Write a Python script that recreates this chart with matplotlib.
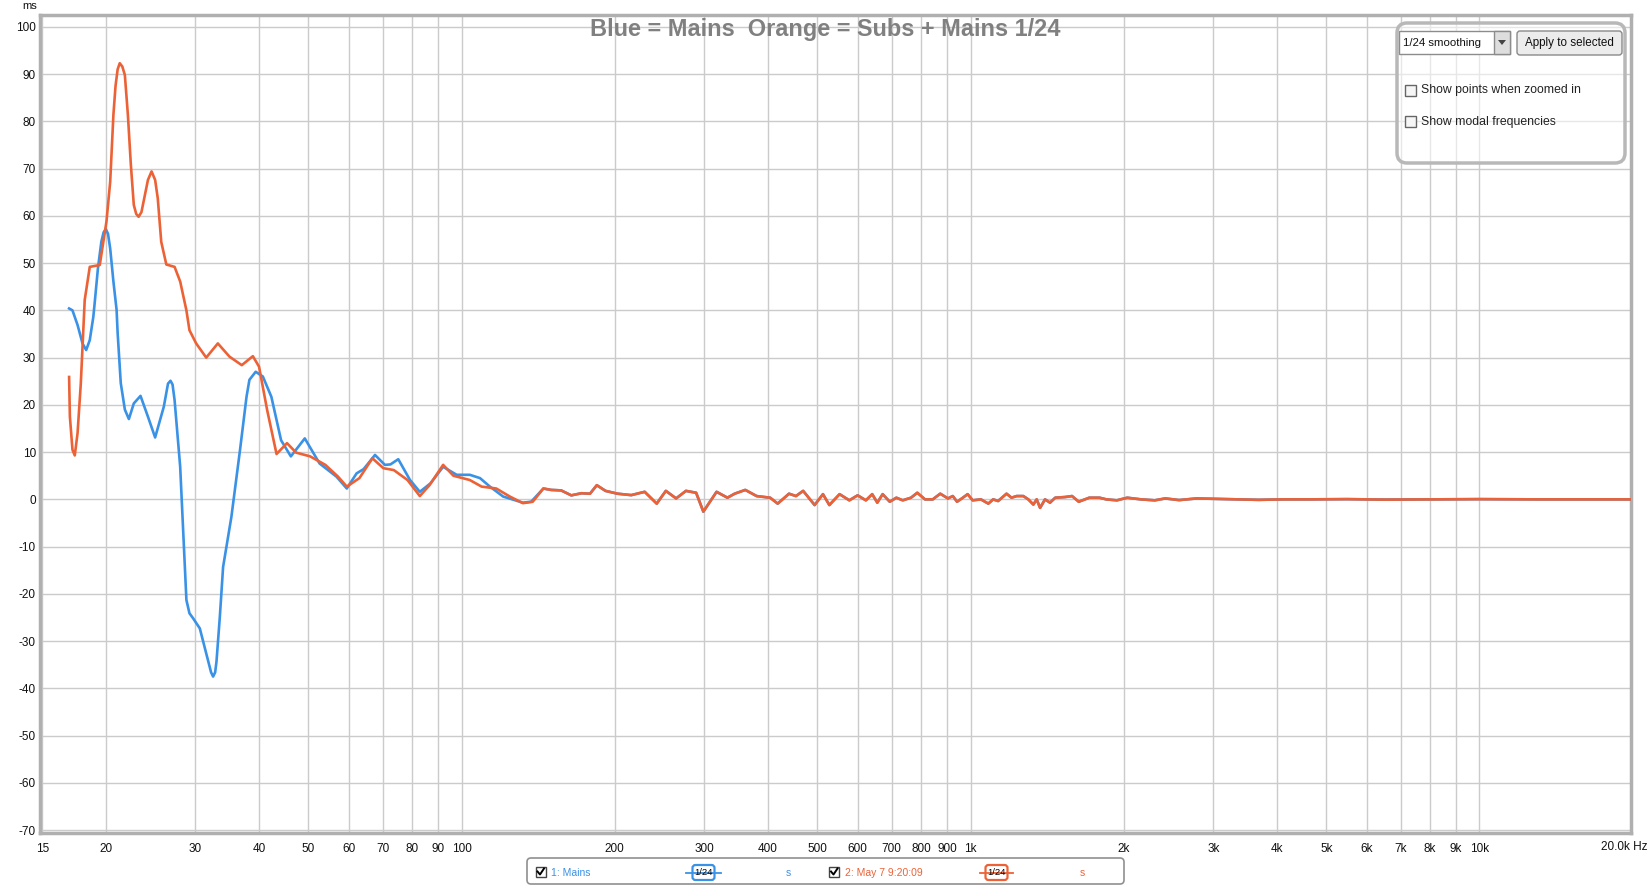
import numpy as np
import matplotlib
matplotlib.use("Agg")
import matplotlib.pyplot as plt
from matplotlib.patches import FancyBboxPatch, Rectangle, Polygon
from matplotlib.lines import Line2D

plt.rcParams['font.family'] = ['Liberation Sans', 'DejaVu Sans']

# ---------------- data ----------------
mains_freq_lf = [16.94, 17.2, 17.6, 18.0, 18.3, 18.6, 18.9, 19.0, 19.3, 19.6, 19.8, 20.0, 20.2,
                 20.4, 20.7, 21.0, 21.1, 21.4, 21.8, 22.2, 22.7, 23.4, 24.2, 25.0, 26.0, 26.5,
                 26.8, 27.05, 27.3, 28.0, 28.4, 28.8, 29.2, 29.7, 30.6, 31.5, 32.2, 32.5, 32.8,
                 33.0, 33.5, 34.0, 35.3, 36.7, 37.8, 38.3, 39.4, 40.7, 42.3, 44.2, 46.2, 49.2,
                 52.6, 56.8, 59.5, 62.2, 64.2, 67.6, 70.7, 72.5, 75.1, 79.2, 82.8, 86.9, 92.0,
                 97.8, 103.8, 108.7, 113.7, 120.7, 132.0, 137.0, 144.8]
mains_ms_lf = [40.4, 40.0, 36.9, 33.0, 31.6, 33.7, 38.6, 41.1, 48.9, 54.5, 56.5, 57.2, 56.2,
               53.1, 46.1, 40.1, 35.2, 24.6, 19.0, 17.0, 20.3, 21.9, 17.5, 13.1, 19.6, 24.5,
               25.1, 24.3, 21.0, 6.9, -7.2, -21.3, -24.1, -25.2, -27.3, -32.6, -36.6, -37.5, -36.6,
               -34.3, -24.9, -14.3, -3.7, 10.4, 21.7, 25.3, 27.0, 26.0, 21.7, 12.5, 9.1, 12.9,
               7.6, 4.8, 2.3, 5.5, 6.4, 9.4, 7.3, 7.4, 8.5, 4.1, 1.6, 3.4, 6.9,
               5.2, 5.2, 4.5, 2.7, 0.6, -0.7, -0.5, 2.3]

subs_freq_lf = [16.94, 17.0, 17.2, 17.38, 17.6, 17.86, 18.18, 18.5, 18.6, 19.46, 20.06, 20.4,
                20.7, 20.9, 21.1, 21.3, 21.55, 21.8, 22.1, 22.4, 22.7, 22.95, 23.2, 23.5, 23.8,
                24.2, 24.6, 25.0, 25.3, 25.7, 26.3, 27.3, 28.0, 28.8, 29.2, 30.1, 31.5, 33.2,
                35.0, 37.0, 38.9, 40.0, 41.5, 43.3, 45.4, 47.3, 50.4, 54.0, 57.2, 59.5, 63.0,
                66.8, 70.2, 73.6, 78.3, 82.8, 86.5, 92.0, 96.4, 103.8, 109.5, 117.0, 124.4,
                132.0, 138.0, 144.8]
subs_ms_lf = [25.9, 17.5, 10.5, 9.3, 14.0, 24.5, 42.2, 47.5, 49.2, 49.6, 58.8, 67.2,
              81.4, 87.5, 91.0, 92.3, 91.6, 89.8, 81.4, 70.8, 62.3, 60.4, 59.8, 60.8, 63.7,
              67.6, 69.4, 67.6, 63.7, 54.5, 49.7, 49.2, 46.1, 40.0, 35.8, 33.0, 30.0, 33.0,
              30.2, 28.4, 30.3, 28.1, 18.9, 9.6, 11.9, 9.9, 9.1, 7.3, 4.8, 2.7, 4.5,
              8.7, 6.6, 6.2, 4.1, 0.7, 3.0, 7.3, 5.0, 4.1, 2.7, 2.3, 0.6,
              -0.8, -0.5, 2.3]

# above ~150 Hz both traces coincide
shared_freq_hf = [150, 156.9, 164.3, 172, 178.8, 184.4, 191.8, 202.6, 215.5, 229, 241.8, 252,
                  264, 276, 289, 298.6, 317, 333, 344, 361, 380, 404, 418, 440, 454, 469, 494,
                  513, 528, 553, 578, 600, 623, 641, 656, 672, 694, 715, 736, 764, 786, 814,
                  843, 872, 903, 923, 941, 966, 987, 1010, 1048, 1084, 1108, 1133, 1177, 1204,
                  1232, 1270, 1299, 1329, 1349, 1370, 1401, 1433, 1467, 1536, 1583, 1632, 1711,
                  1793, 1849, 1939, 2032, 2163, 2302, 2414, 2570, 2782, 3054, 3352, 3684, 4112,
                  4589, 5500, 6500, 8000, 10000, 13000, 16000, 20000]
shared_ms_hf = [2.0, 1.9, 0.85, 1.3, 1.2, 3.0, 1.8, 1.2, 0.9, 1.6, -0.9, 1.8,
                0.2, 1.8, 1.4, -2.6, 1.6, 0.35, 1.2, 2.0, 0.7, 0.35, -0.9, 1.2, 0.7, 1.8, -1.2,
                1.1, -1.2, 1.1, -0.2, 0.85, -0.2, 1.1, -0.7, 1.1, -0.5, 0.35, -0.2, 0.35, 1.4, 0.0,
                0.0, 1.2, 0.2, 0.7, -0.5, 0.35, 1.1, -0.2, 0.0, -0.9, 0.0, -0.35, 1.2, 0.35,
                0.7, 0.7, 0.0, -1.1, 0.0, -1.8, 0.0, -0.7, 0.35, 0.5, 0.7, -0.5, 0.35,
                0.35, 0.0, -0.2, 0.35, 0.0, -0.2, 0.2, -0.15, 0.2, 0.1, 0.0, -0.1, 0.0,
                0.0, 0.05, -0.05, 0.0, 0.05, 0.0, 0.0, 0.0]

x_ticks = [15, 20, 30, 40, 50, 60, 70, 80, 90, 100, 200, 300, 400, 500, 600, 700, 800, 900,
           1000, 2000, 3000, 4000, 5000, 6000, 7000, 8000, 9000, 10000]
x_tick_labels = ['15', '20', '30', '40', '50', '60', '70', '80', '90', '100', '200', '300',
                 '400', '500', '600', '700', '800', '900', '1k', '2k', '3k', '4k', '5k', '6k',
                 '7k', '8k', '9k', '10k']
y_ticks = list(range(-70, 101, 10))

title_text = "Blue = Mains  Orange = Subs + Mains 1/24"
legend_names = ["1: Mains", "2: May 7 9:20:09"]

# ---------------- figure ----------------
W, H = 1651, 885
fig = plt.figure(figsize=(W / 100, H / 100), dpi=100)
L, R, T, B = 40, 1631, 15, 833
ax = fig.add_axes([L / W, 1 - B / H, (R - L) / W, (B - T) / H])

BLUE = '#3a92e6'
ORANGE = '#ec6236'

ax.plot(mains_freq_lf + shared_freq_hf, mains_ms_lf + shared_ms_hf, color=BLUE, lw=1.9,
        solid_joinstyle='round', zorder=3)
ax.plot(subs_freq_lf + shared_freq_hf, subs_ms_lf + shared_ms_hf, color=ORANGE, lw=1.9,
        solid_joinstyle='round', zorder=4)

ax.set_xscale('log')
ax.set_xlim(14.85, 19850)
ax.set_ylim(-70.6, 102.5)
ax.set_xticks(x_ticks)
ax.set_xticklabels(x_tick_labels)
ax.xaxis.set_minor_locator(matplotlib.ticker.NullLocator())
ax.set_yticks(y_ticks)
ax.set_yticklabels([str(v) for v in y_ticks])
ax.tick_params(axis='both', length=0, labelsize=8.5, labelcolor='#111111')
ax.tick_params(axis='x', pad=7)
ax.tick_params(axis='y', pad=3)
ax.grid(True, color='#cbcbcb', lw=1.0)
ax.set_axisbelow(True)
for s in ax.spines.values():
    s.set_color('#b0b0b0')
    s.set_linewidth(2.5)

# ---------------- overlay in pixel coordinates ----------------
ov = fig.add_axes([0, 0, 1, 1], zorder=10)
ov.set_xlim(0, W)
ov.set_ylim(H, 0)
ov.axis('off')
ov.patch.set_alpha(0)

ov.text(825, 29.5, title_text, ha='center', va='center',
        fontsize=16.9, fontweight='bold', color='#808080')

ov.text(22, 6, 'ms', fontsize=8, ha='left', va='center', color='#111111')
ov.text(1601, 847, '20.0k Hz', fontsize=8.5, ha='left', va='center', color='#111111')

# top-right panel
ov.add_patch(FancyBboxPatch((1397, 23), 228, 140, boxstyle="round,pad=0,rounding_size=10",
                            ec='#b8b8b8', lw=2.5, fc=(1, 1, 1, 0.55)))
ov.add_patch(Rectangle((1399, 31), 111, 23, ec='#8c8c8c', fc='white', lw=1))
ov.add_patch(Rectangle((1494, 31), 16, 23, ec='#8c8c8c', fc='#dedede', lw=1))
ov.add_patch(Polygon([[1498, 40], [1506, 40], [1502, 45]], closed=True, fc='#444444', ec='none'))
ov.text(1403, 43, '1/24 smoothing', fontsize=8.2, ha='left', va='center', color='#111111')
ov.add_patch(FancyBboxPatch((1517, 31), 105, 24, boxstyle="round,pad=0,rounding_size=3",
                            ec='#8a8a8a', fc='#ececec', lw=1))
ov.text(1569.5, 43, 'Apply to selected', fontsize=8.4, ha='center', va='center', color='#111111')
for yy, label in [(84.5, 'Show points when zoomed in'), (115.5, 'Show modal frequencies')]:
    ov.add_patch(Rectangle((1405, yy), 11, 11, ec='#666666', fc='#f6f6f6', lw=1))
    ov.text(1421, yy + 6, label, fontsize=8.8, ha='left', va='center', color='#222222')

# bottom legend
ov.add_patch(FancyBboxPatch((527, 858), 597, 26, boxstyle="round,pad=0,rounding_size=4",
                            ec='#909090', fc='white', lw=1.2))


def checkbox(x, y):
    ov.add_patch(Rectangle((x, y), 10, 10, ec='#444444', fc='white', lw=1))
    ov.add_line(Line2D([x + 2, x + 4.5, x + 8.5], [y + 5, y + 8, y + 2], color='black', lw=1.4))


def smooth_symbol(x0, x1, color):
    xm = (x0 + x1) / 2
    ov.add_line(Line2D([x0, x1], [872.5, 872.5], color=color, lw=1.3))
    ov.add_patch(FancyBboxPatch((xm - 11, 865), 22, 15, boxstyle="round,pad=0,rounding_size=3",
                                ec=color, fc='white', lw=1.6))
    ov.text(xm, 872.5, '1/24', fontsize=6.8, ha='center', va='center', color='black')


checkbox(535.5, 866.5)
ov.text(551, 872.5, legend_names[0], fontsize=7.5, ha='left', va='center', color=BLUE)
smooth_symbol(686, 721, BLUE)
ov.text(786, 872.5, 's', fontsize=7.5, ha='left', va='center', color=BLUE)
checkbox(829, 866.5)
ov.text(845, 872.5, legend_names[1], fontsize=7.5, ha='left', va='center', color=ORANGE)
smooth_symbol(980, 1013, ORANGE)
ov.text(1080, 872.5, 's', fontsize=7.5, ha='left', va='center', color=ORANGE)

fig.savefig('out.png', dpi=100)
